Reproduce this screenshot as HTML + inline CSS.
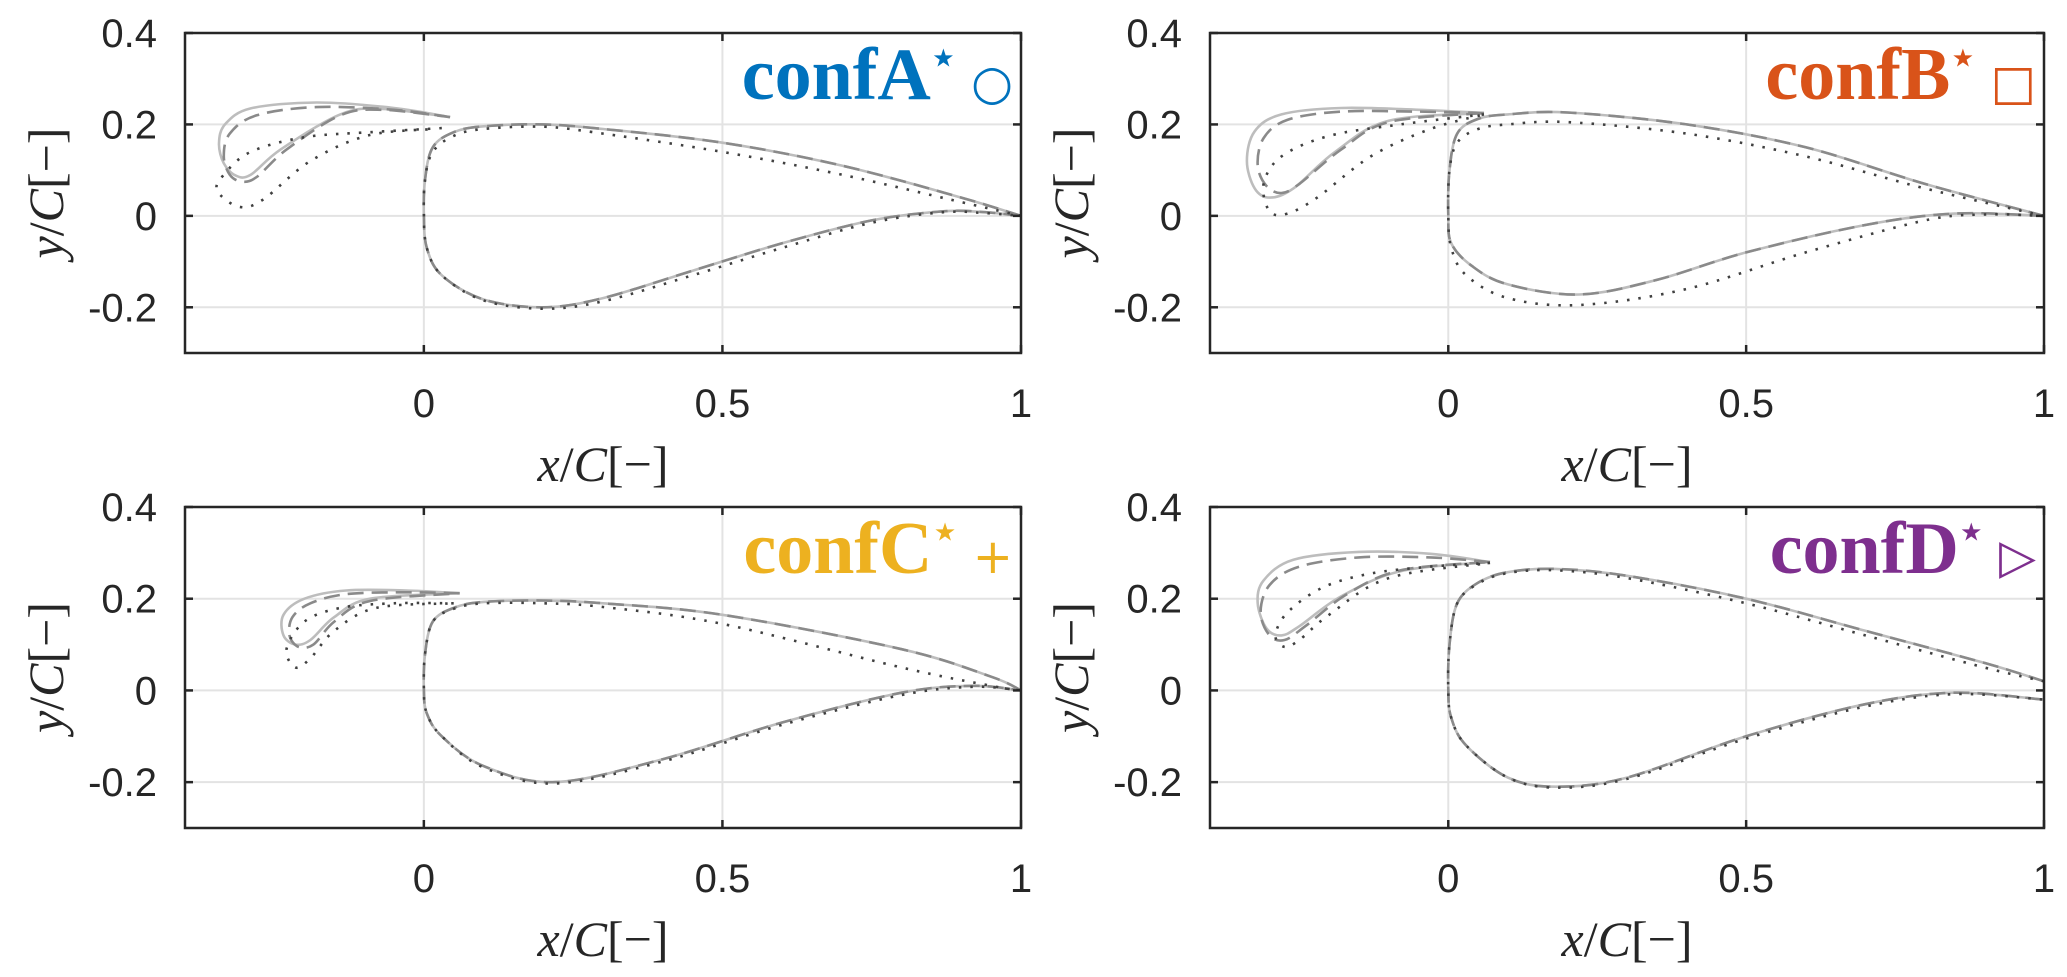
<!DOCTYPE html>
<html><head><meta charset="utf-8">
<style>
html,body{margin:0;padding:0;background:#fff;}
svg{display:block;}
.tick{font-family:"Liberation Sans",sans-serif;font-size:40px;fill:#262626;}
.alab{font-family:"Liberation Serif",serif;font-size:50px;fill:#262626;}
.ttl{font-family:"Liberation Serif",serif;font-size:74px;font-weight:bold;}
</style></head>
<body>
<svg id="fig" width="2067" height="977" viewBox="0 0 2067 977" xmlns="http://www.w3.org/2000/svg"></svg>
<script>
// ---- data (x/C, y/C) ----
const xTicks = [0, 0.5, 1];
const yTicks = [0.4, 0.2, 0, -0.2];
const yTickLabels = ["0.4", "0.2", "0", "-0.2"];
const xTickLabels = ["0", "0.5", "1"];
const confNames = ["confA", "confB", "confC", "confD"];
const confColors = ["#0072BD", "#D95319", "#EDB120", "#7E2F8E"];
const confMarkers = ["○", "□", "+", "▷"];

const mainA = [[1,0],[0.9,0.04],[0.7,0.11],[0.5,0.16],[0.3,0.19],[0.2,0.2],[0.1,0.196],[0.05,0.183],[0.015,0.15],[0.002,0.08],[0,0],[0.005,-0.07],[0.03,-0.13],[0.1,-0.183],[0.2,-0.2],[0.3,-0.18],[0.45,-0.12],[0.6,-0.06],[0.75,-0.01],[0.87,0.01],[0.94,0.008],[1,0]];
const mainAdot = [[1,0],[0.9,0.03],[0.7,0.09],[0.5,0.14],[0.3,0.18],[0.2,0.195],[0.1,0.19],[0.05,0.175],[0.015,0.14],[0.002,0.08],[0,0],[0.005,-0.07],[0.03,-0.13],[0.1,-0.185],[0.2,-0.203],[0.3,-0.187],[0.45,-0.13],[0.6,-0.07],[0.75,-0.015],[0.87,0.008],[0.94,0.006],[1,0]];
const slatA = [[0.044,0.216],[-0.05,0.236],[-0.18,0.248],[-0.29,0.235],[-0.333,0.2],[-0.343,0.158],[-0.335,0.115],[-0.315,0.088],[-0.29,0.09],[-0.24,0.145],[-0.14,0.222],[-0.07,0.234],[0.044,0.216]];
const slatAdash = [[0.044,0.216],[-0.05,0.232],[-0.18,0.238],[-0.28,0.22],[-0.325,0.18],[-0.335,0.13],[-0.325,0.09],[-0.305,0.075],[-0.28,0.085],[-0.23,0.145],[-0.14,0.22],[-0.07,0.232],[0.044,0.216]];
const slatAdot = [[0.03,0.192],[-0.09,0.183],[-0.2,0.172],[-0.29,0.14],[-0.335,0.09],[-0.346,0.055],[-0.31,0.02],[-0.27,0.035],[-0.19,0.12],[-0.093,0.176],[0.016,0.19]];

const mainB = [[1,0],[0.8,0.07],[0.6,0.15],[0.4,0.2],[0.2,0.226],[0.1,0.222],[0.05,0.212],[0.015,0.18],[0.002,0.1],[0,0],[0.005,-0.06],[0.04,-0.11],[0.1,-0.15],[0.22,-0.172],[0.35,-0.14],[0.5,-0.08],[0.7,-0.02],[0.85,0.005],[1,0]];
const mainBdot = [[1,0],[0.8,0.06],[0.6,0.13],[0.4,0.18],[0.2,0.205],[0.1,0.2],[0.05,0.19],[0.015,0.16],[0.002,0.1],[0,0],[0.005,-0.07],[0.03,-0.13],[0.1,-0.18],[0.22,-0.195],[0.4,-0.16],[0.6,-0.08],[0.8,-0.01],[0.9,0.003],[1,0]];
const slatB = [[0.06,0.225],[-0.05,0.232],[-0.18,0.236],[-0.28,0.222],[-0.325,0.185],[-0.338,0.12],[-0.325,0.06],[-0.3,0.04],[-0.26,0.06],[-0.19,0.14],[-0.1,0.208],[0.06,0.225]];
const slatBdash = [[0.06,0.225],[-0.05,0.228],[-0.18,0.228],[-0.27,0.21],[-0.31,0.17],[-0.32,0.11],[-0.305,0.065],[-0.28,0.05],[-0.25,0.07],[-0.18,0.145],[-0.1,0.205],[0.06,0.225]];
const slatBdot = [[0.06,0.222],[-0.08,0.2],[-0.2,0.175],[-0.28,0.13],[-0.31,0.07],[-0.3,0.01],[-0.27,0.005],[-0.22,0.04],[-0.13,0.13],[-0.03,0.19],[0.06,0.222]];

const mainC = [[1,0],[0.95,0.03],[0.8,0.09],[0.5,0.165],[0.3,0.19],[0.2,0.196],[0.1,0.193],[0.05,0.18],[0.015,0.15],[0.002,0.08],[0,0],[0.005,-0.05],[0.03,-0.1],[0.1,-0.165],[0.22,-0.2],[0.4,-0.15],[0.6,-0.07],[0.8,-0.005],[0.92,0.01],[1,0]];
const mainCdot = [[1,0],[0.95,0.01],[0.8,0.05],[0.5,0.145],[0.3,0.182],[0.2,0.19],[0.1,0.19],[0.05,0.178],[0.015,0.15],[0.002,0.08],[0,0],[0.005,-0.05],[0.03,-0.1],[0.1,-0.168],[0.22,-0.203],[0.4,-0.155],[0.6,-0.075],[0.8,-0.01],[0.92,0.008],[1,0]];
const slatC = [[0.06,0.212],[-0.03,0.218],[-0.13,0.218],[-0.2,0.2],[-0.235,0.165],[-0.235,0.12],[-0.215,0.1],[-0.19,0.11],[-0.15,0.16],[-0.09,0.2],[0.06,0.212]];
const slatCdash = [[0.06,0.212],[-0.03,0.214],[-0.13,0.21],[-0.19,0.19],[-0.22,0.16],[-0.225,0.12],[-0.21,0.095],[-0.185,0.1],[-0.15,0.15],[-0.09,0.195],[0.06,0.212]];
const slatCdot = [[0.05,0.19],[-0.05,0.19],[-0.14,0.18],[-0.2,0.15],[-0.23,0.09],[-0.215,0.05],[-0.19,0.07],[-0.15,0.13],[-0.08,0.18],[0.05,0.19]];

const mainD = [[1,0.02],[0.9,0.06],[0.7,0.13],[0.5,0.2],[0.3,0.25],[0.18,0.265],[0.1,0.258],[0.05,0.235],[0.015,0.19],[0.002,0.1],[0,0],[0.005,-0.06],[0.03,-0.12],[0.1,-0.19],[0.18,-0.21],[0.3,-0.19],[0.5,-0.1],[0.7,-0.03],[0.85,-0.005],[1,-0.02]];
const mainDdot = [[1,0.02],[0.9,0.05],[0.7,0.12],[0.5,0.19],[0.3,0.245],[0.18,0.262],[0.1,0.256],[0.05,0.233],[0.015,0.19],[0.002,0.1],[0,0],[0.005,-0.06],[0.03,-0.12],[0.1,-0.19],[0.18,-0.212],[0.3,-0.193],[0.5,-0.105],[0.7,-0.035],[0.85,-0.008],[1,-0.02]];
const slatD = [[0.07,0.28],[-0.03,0.298],[-0.15,0.302],[-0.26,0.285],[-0.31,0.24],[-0.32,0.19],[-0.305,0.135],[-0.28,0.12],[-0.25,0.14],[-0.18,0.205],[-0.08,0.26],[0.07,0.28]];
const slatDdash = [[0.07,0.28],[-0.03,0.29],[-0.15,0.29],[-0.25,0.27],[-0.3,0.23],[-0.315,0.17],[-0.3,0.12],[-0.275,0.11],[-0.24,0.14],[-0.17,0.21],[-0.08,0.262],[0.07,0.28]];
const slatDdot = [[0.07,0.278],[-0.03,0.27],[-0.13,0.255],[-0.21,0.225],[-0.27,0.17],[-0.29,0.12],[-0.275,0.095],[-0.25,0.11],[-0.2,0.165],[-0.1,0.245],[0.07,0.278]];

const mains = [mainA, mainB, mainC, mainD];
const mainsDot = [mainAdot, mainBdot, mainCdot, mainDdot];
const slats = [slatA, slatB, slatC, slatD];
const slatsDash = [slatAdash, slatBdash, slatCdash, slatDdash];
const slatsDot = [slatAdot, slatBdot, slatCdot, slatDdot];

// ---- layout ----
const panels = [
  {L:185, R:1021, T:33, B:353},
  {L:1210, R:2044, T:33, B:353},
  {L:185, R:1021, T:507, B:828},
  {L:1210, R:2044, T:507, B:828}
];
const NS = "http://www.w3.org/2000/svg";
const svg = document.getElementById('fig');
function mk(tag, attrs, parent){
  const e = document.createElementNS(NS, tag);
  for (const k in attrs) e.setAttribute(k, attrs[k]);
  (parent||svg).appendChild(e);
  return e;
}
function smoothPath(pts){
  let d = "M" + pts[0][0].toFixed(1) + "," + pts[0][1].toFixed(1);
  for (let i=0;i<pts.length-1;i++){
    const p0 = pts[Math.max(i-1,0)], p1 = pts[i], p2 = pts[i+1], p3 = pts[Math.min(i+2,pts.length-1)];
    const c1 = [p1[0]+(p2[0]-p0[0])/6, p1[1]+(p2[1]-p0[1])/6];
    const c2 = [p2[0]-(p3[0]-p1[0])/6, p2[1]-(p3[1]-p1[1])/6];
    d += " C"+c1[0].toFixed(1)+","+c1[1].toFixed(1)+" "+c2[0].toFixed(1)+","+c2[1].toFixed(1)+" "+p2[0].toFixed(1)+","+p2[1].toFixed(1);
  }
  return d;
}

panels.forEach((P, i) => {
  const g = mk('g', {});
  
  
  const xs = v => P.L + (v + 0.4) / 1.4 * (P.R - P.L);
  const ys = v => P.T + (0.4 - v) / 0.7 * (P.B - P.T);
  xTicks.forEach(t => {
    const l = mk('line', {x1:xs(t), x2:xs(t), y1:P.T, y2:P.B, stroke:'#e3e3e3', 'stroke-width':2}, g);
    
    
  });
  yTicks.forEach(t => {
    const l = mk('line', {x1:P.L, x2:P.R, y1:ys(t), y2:ys(t), stroke:'#e3e3e3', 'stroke-width':2}, g);
    
    
  });
  const toPx = arr => arr.map(p => [xs(p[0]), ys(p[1])]);
  const series = [
    {d: mains[i], st:{stroke:'#bdbdbd','stroke-width':2.6}, n:'main-element-solid'},
    {d: mains[i], st:{stroke:'#8a8a8a','stroke-width':2.6,'stroke-dasharray':'16 8'}, n:'main-element-dashed'},
    {d: mainsDot[i], st:{stroke:'#404040','stroke-width':2.6,'stroke-dasharray':'2.5 9'}, n:'main-element-dotted'},
    {d: slats[i], st:{stroke:'#bdbdbd','stroke-width':2.6}, n:'slat-solid'},
    {d: slatsDash[i], st:{stroke:'#8a8a8a','stroke-width':2.6,'stroke-dasharray':'16 8'}, n:'slat-dashed'},
    {d: slatsDot[i], st:{stroke:'#404040','stroke-width':2.6,'stroke-dasharray':'2.5 9'}, n:'slat-dotted'}
  ];
  series.forEach(s => {
    const a = Object.assign({d: smoothPath(toPx(s.d)), fill:'none'}, s.st);
    const p = mk('path', a, g);
    
    
  });
  const fr = mk('rect', {x:P.L, y:P.T, width:P.R-P.L, height:P.B-P.T, fill:'none', stroke:'#262626', 'stroke-width':2.5}, g);
  
  
  xTicks.forEach((t, k) => {
    mk('line', {x1:xs(t), x2:xs(t), y1:P.B, y2:P.B-8, stroke:'#262626','stroke-width':2.5}, g);
    mk('line', {x1:xs(t), x2:xs(t), y1:P.T, y2:P.T+8, stroke:'#262626','stroke-width':2.5}, g);
    const tx = mk('text', {x:xs(t), y:P.B+64, 'text-anchor':'middle', class:'tick'}, g);
    tx.textContent = xTickLabels[k];
    
    
  });
  yTicks.forEach((t, k) => {
    mk('line', {x1:P.L, x2:P.L+8, y1:ys(t), y2:ys(t), stroke:'#262626','stroke-width':2.5}, g);
    mk('line', {x1:P.R, x2:P.R-8, y1:ys(t), y2:ys(t), stroke:'#262626','stroke-width':2.5}, g);
    const tx = mk('text', {x:P.L-28, y:ys(t)+14, 'text-anchor':'end', class:'tick'}, g);
    tx.textContent = yTickLabels[k];
    
    
  });
  const xl = mk('text', {x:(P.L+P.R)/2, y:P.B+128, 'text-anchor':'middle', class:'alab'}, g);
  xl.innerHTML = '<tspan font-style="italic">x</tspan>/<tspan font-style="italic">C</tspan>[−]';
  
  
  const cy = (P.T+P.B)/2;
  const yx = P.L-122;
  const yl = mk('text', {x:yx, y:cy, 'text-anchor':'middle', class:'alab', transform:'rotate(-90 '+yx+' '+cy+')'}, g);
  yl.innerHTML = '<tspan font-style="italic">y</tspan>/<tspan font-style="italic">C</tspan>[−]';
  
  
  const tt = mk('text', {x:P.R-8, y:P.T+66, 'text-anchor':'end', class:'ttl', fill:confColors[i]}, g);
  tt.innerHTML = confNames[i] + '<tspan font-size="40" dy="-28">⋆</tspan><tspan dy="28" font-weight="normal" font-family="DejaVu Sans" font-size="48"> ' + confMarkers[i] + '</tspan>';
  
  
});
</script>
</body></html>
